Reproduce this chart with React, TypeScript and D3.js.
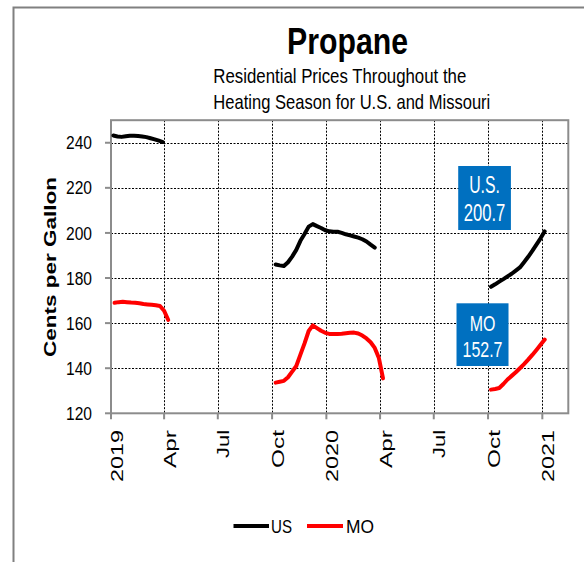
import React from "react";
import * as d3 from "d3";

// ---- data ----
const usDates2019 = ["2019-01-05","2019-01-12","2019-01-19","2019-01-26","2019-02-02","2019-02-09","2019-02-16","2019-02-23","2019-03-02","2019-03-09","2019-03-16","2019-03-23","2019-03-30"];
const usPrices2019 = [243.2,242.8,242.6,242.9,243.1,243.1,243.0,242.8,242.5,242.0,241.5,240.9,240.3];
const moDates2019 = ["2019-01-07","2019-01-14","2019-01-21","2019-01-28","2019-02-04","2019-02-11","2019-02-18","2019-02-25","2019-03-04","2019-03-11","2019-03-18","2019-03-25","2019-04-01","2019-04-08"];
const moPrices2019 = [169.0,169.3,169.5,169.3,169.1,169.0,168.8,168.5,168.3,168.1,167.9,167.6,165.5,161.4];

const usDates2020 = ["2019-10-07","2019-10-14","2019-10-21","2019-10-28","2019-11-04","2019-11-11","2019-11-18","2019-11-25","2019-12-02","2019-12-09","2019-12-16","2019-12-23","2019-12-30","2020-01-06","2020-01-13","2020-01-20","2020-01-27","2020-02-03","2020-02-10","2020-02-17","2020-02-24","2020-03-02","2020-03-09","2020-03-16","2020-03-23"];
const usPrices2020 = [186.0,185.6,185.3,187.0,189.5,192.5,196.5,199.5,202.8,203.9,203.0,202.2,201.2,200.7,200.5,200.5,200.0,199.4,198.9,198.4,197.9,197.2,196.2,194.8,193.5];
const moDates2020 = ["2019-10-07","2019-10-14","2019-10-21","2019-10-28","2019-11-04","2019-11-11","2019-11-18","2019-11-25","2019-12-02","2019-12-09","2019-12-16","2019-12-23","2019-12-30","2020-01-06","2020-01-13","2020-01-20","2020-01-27","2020-02-03","2020-02-10","2020-02-17","2020-02-24","2020-03-02","2020-03-09","2020-03-16","2020-03-23","2020-03-30","2020-04-06"];
const moPrices2020 = [133.6,134.0,134.4,136.0,138.5,141.0,146.0,151.0,156.5,159.0,157.8,156.6,155.7,155.2,155.2,155.2,155.3,155.5,155.7,155.8,155.4,154.5,153.2,151.5,149.0,144.5,135.5];

const dates2021 = ["2020-10-06","2020-10-13","2020-10-20","2020-10-27","2020-11-03","2020-11-10","2020-11-17","2020-11-24","2020-12-01","2020-12-08","2020-12-15","2020-12-22","2020-12-29","2021-01-05"];
const usPrices2021 = [176.1,177.2,178.4,179.5,180.7,181.9,183.3,184.7,187.0,189.4,192.0,194.8,197.6,200.7];
const moPrices2021 = [130.5,130.8,131.2,133.0,135.0,136.6,138.2,140.0,141.8,143.8,145.9,148.1,150.4,152.7];

const yTicks = [120, 140, 160, 180, 200, 220, 240];
const seriesNames = ["US", "MO"];
const seriesColors = ["#000000", "#ff0000"];

const title = "Propane";
const subtitle1 = "Residential Prices Throughout the";
const subtitle2 = "Heating Season for U.S. and Missouri";
const yTitle = "Cents per Gallon";

const parse = d3.utcParse("%Y-%m-%d");
const zip = (ds: string[], vs: number[]) => ds.map((d, i) => [parse(d) as Date, vs[i]] as [Date, number]);
const snap = (v: number) => Math.round(v) + 0.5;

export default function App() {
  const W = 584, H = 562;
  const L = 111, R = 568.3, T = 120.2, B = 413.3;
  const x = d3.scaleUtc().domain([new Date(Date.UTC(2019, 0, 1)), new Date(Date.UTC(2021, 1, 14))]).range([L, R]);
  const y = d3.scaleLinear().domain([120, 250]).range([B, T]);
  const line = d3.line<[Date, number]>().x(d => x(d[0])).y(d => y(d[1]));

  const usSegs = [zip(usDates2019, usPrices2019), zip(usDates2020, usPrices2020), zip(dates2021, usPrices2021)];
  const moSegs = [zip(moDates2019, moPrices2019), zip(moDates2020, moPrices2020), zip(dates2021, moPrices2021)];

  const xTicks = d3.utcMonth.every(3)!.range(new Date(Date.UTC(2019, 0, 1)), new Date(Date.UTC(2021, 0, 2)));
  const fmtTick = (d: Date) => (d.getUTCMonth() === 0 ? d3.utcFormat("%Y")(d) : d3.utcFormat("%b")(d));
  const tickLen: Record<string, number> = { "Apr": 38, "Jul": 28, "Oct": 38 };

  const font = "'Liberation Sans', Arial, sans-serif";
  const gridStyle = { stroke: "#000", strokeWidth: 1, strokeDasharray: "2,1.5" };

  const usLast = usPrices2021[usPrices2021.length - 1];
  const moLast = moPrices2021[moPrices2021.length - 1];
  const boxDate = new Date(Date.UTC(2020, 8, 25));
  const bx = x(boxDate);

  return (
    <svg width={W} height={H} style={{ position: "absolute", left: 0, top: 0, background: "#fff" }} fontFamily={font}>
      <rect x={0} y={0} width={W} height={H} fill="#fff" />
      <path d="M13.5,562 V7.5 H584" fill="none" stroke="#808080" strokeWidth={2} />

      {/* titles */}
      <text x={347.5} y={54.3} textAnchor="middle" fontSize={36} fontWeight="bold" textLength={121} lengthAdjust="spacingAndGlyphs">{title}</text>
      <text x={213.3} y={83.3} fontSize={21} textLength={253} lengthAdjust="spacingAndGlyphs">{subtitle1}</text>
      <text x={213.3} y={109} fontSize={21} textLength={277} lengthAdjust="spacingAndGlyphs">{subtitle2}</text>

      {/* gridlines */}
      {yTicks.filter(t => t > 120).map(t => (
        <line key={"gy" + t} x1={L} x2={R} y1={snap(y(t))} y2={snap(y(t))} {...gridStyle} />
      ))}
      {xTicks.slice(1).map(t => (
        <line key={"gx" + t.getTime()} x1={snap(x(t))} x2={snap(x(t))} y1={T} y2={B} {...gridStyle} />
      ))}

      {/* plot border */}
      <rect x={L} y={T} width={R - L} height={B - T} fill="none" stroke="#8c8c8c" strokeWidth={2} />

      {/* y ticks */}
      {yTicks.map(t => (
        <g key={"yt" + t}>
          <line x1={L - 6} x2={L} y1={y(t)} y2={y(t)} stroke="#8c8c8c" strokeWidth={2} />
          <text x={92} y={y(t) + 6.6} textAnchor="end" fontSize={18} textLength={26} lengthAdjust="spacingAndGlyphs">{t}</text>
        </g>
      ))}
      {/* x ticks */}
      {xTicks.map(t => {
        const lab = fmtTick(t);
        const len = tickLen[lab] ?? 52;
        return (
          <g key={"xt" + t.getTime()}>
            <line x1={x(t)} x2={x(t)} y1={B} y2={B + 6} stroke="#8c8c8c" strokeWidth={2} />
            <text transform={`translate(${x(t) + 11.5},430) rotate(-90)`} textAnchor="end" fontSize={16} textLength={len} lengthAdjust="spacingAndGlyphs">{lab}</text>
          </g>
        );
      })}

      {/* y title */}
      <text transform={`translate(55.5,267) rotate(-90)`} textAnchor="middle" fontSize={16} fontWeight="bold" textLength={180} lengthAdjust="spacingAndGlyphs">{yTitle}</text>

      {/* lines */}
      {usSegs.map((s, i) => (
        <path key={"us" + i} d={line(s) || ""} fill="none" stroke={seriesColors[0]} strokeWidth={4} strokeLinejoin="round" strokeLinecap="round" />
      ))}
      {moSegs.map((s, i) => (
        <path key={"mo" + i} d={line(s) || ""} fill="none" stroke={seriesColors[1]} strokeWidth={4} strokeLinejoin="round" strokeLinecap="round" />
      ))}

      {/* annotation boxes */}
      <g>
        <rect x={bx - 26.3} y={166} width={52.7} height={64} fill="#0070c0" />
        <text x={bx} y={192.7} textAnchor="middle" fill="#fff" fontSize={23} textLength={30.7} lengthAdjust="spacingAndGlyphs">U.S.</text>
        <text x={bx} y={220.7} textAnchor="middle" fill="#fff" fontSize={23} textLength={41.7} lengthAdjust="spacingAndGlyphs">{usLast.toFixed(1)}</text>
      </g>
      <g>
        <rect x={bx - 28} y={303.3} width={52} height={62.7} fill="#0070c0" />
        <text x={bx - 2} y={330.7} textAnchor="middle" fill="#fff" fontSize={22} textLength={25.7} lengthAdjust="spacingAndGlyphs">MO</text>
        <text x={bx - 2} y={357.3} textAnchor="middle" fill="#fff" fontSize={22} textLength={40} lengthAdjust="spacingAndGlyphs">{moLast.toFixed(1)}</text>
      </g>

      {/* legend */}
      <line x1={233.5} x2={269} y1={526} y2={526} stroke={seriesColors[0]} strokeWidth={4} />
      <text x={271} y={533.3} fontSize={18} textLength={21} lengthAdjust="spacingAndGlyphs">{seriesNames[0]}</text>
      <line x1={307} x2={343} y1={526} y2={526} stroke={seriesColors[1]} strokeWidth={4} />
      <text x={346} y={533.3} fontSize={18} textLength={28} lengthAdjust="spacingAndGlyphs">{seriesNames[1]}</text>
    </svg>
  );
}
